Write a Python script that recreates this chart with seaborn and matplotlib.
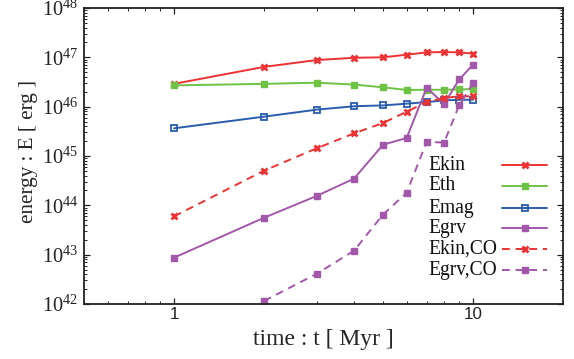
import numpy as np
import pandas as pd
import matplotlib
matplotlib.use("Agg")
import matplotlib.pyplot as plt
from matplotlib.lines import Line2D
from matplotlib.ticker import LogLocator, FixedLocator, FixedFormatter, NullFormatter, LogFormatterMathtext
import seaborn as sns

# time in Myr
time_myr = [1, 2, 3, 4, 5, 6, 7, 8, 9, 10]

# energies in erg
e_kin = [2.9e46, 6.4e46, 8.8e46, 9.8e46, 1.0e47, 1.13e47, 1.26e47, 1.28e47, 1.26e47, 1.19e47]
e_th = [2.7e46, 2.9e46, 3.06e46, 2.8e46, 2.47e46, 2.18e46, 2.2e46, 2.2e46, 2.23e46, 2.28e46]
e_mag = [3.64e45, 6.27e45, 8.7e45, 1.02e46, 1.06e46, 1.15e46, 1.24e46, 1.34e46, 1.38e46, 1.38e46]
e_grv = [8.7e42, 5.6e43, 1.55e44, 3.47e44, 1.69e45, 2.32e45, 2.43e46, 1.13e46, 3.58e46, 7.1e46]
e_kin_co = [5.98e43, 5.04e44, 1.43e45, 2.88e45, 4.67e45, 7.9e45, 1.24e46, 1.5e46, 1.62e46, 1.62e46]
time_grv_co = [2, 3, 4, 5, 6, 7, 8, 9, 10]
e_grv_co = [1.15e42, 4.1e42, 1.2e43, 6.5e43, 1.8e44, 1.95e45, 1.86e45, 1.08e46, 3.0e46]

series_names = ["Ekin", "Eth", "Emag", "Egrv", "Ekin,CO", "Egrv,CO"]
x_tick_values = [1, 10]
x_tick_labels = ["1", "10"]
y_tick_values = [1e42, 1e43, 1e44, 1e45, 1e46, 1e47, 1e48]

sns.set_theme(style="ticks")
plt.rcParams["font.family"] = ["Liberation Serif", "DejaVu Serif"]
plt.rcParams["mathtext.fontset"] = "stix"

RED = "#ec3232"
GREEN = "#6ec244"
BLUE = "#2a5dad"
PURPLE = "#a257ab"
DASH = (0, (4, 3))

styles = {
    "Ekin": dict(color=RED, marker="x", ms=4.3, mew=2.0, ls="-"),
    "Eth": dict(color=GREEN, marker="s", ms=4.5, mew=1.0, ls="-"),
    "Emag": dict(color=BLUE, marker="s", ms=4.6, mew=1.3, ls="-", mfc="none"),
    "Egrv": dict(color=PURPLE, marker="s", ms=4.5, mew=1.0, ls="-"),
    "Ekin,CO": dict(color=RED, marker="x", ms=4.3, mew=2.0, ls=DASH),
    "Egrv,CO": dict(color=PURPLE, marker="s", ms=4.5, mew=1.0, ls=DASH),
}

data = {
    "Ekin": (time_myr, e_kin),
    "Eth": (time_myr, e_th),
    "Emag": (time_myr, e_mag),
    "Egrv": (time_myr, e_grv),
    "Ekin,CO": (time_myr, e_kin_co),
    "Egrv,CO": (time_grv_co, e_grv_co),
}


def marker_kwargs(st):
    kw = dict(marker=st["marker"], markersize=st["ms"], markeredgewidth=st["mew"],
              markeredgecolor=st["color"], linestyle=st["ls"])
    if "mfc" in st:
        kw["markerfacecolor"] = st["mfc"]
    return kw


W, H = 574, 359
fig = plt.figure(figsize=(W / 100, H / 100), dpi=100)
ax_l, ax_r, ax_t, ax_b = 84, 563, 8, 304
ax = fig.add_axes([ax_l / W, 1 - ax_b / H, (ax_r - ax_l) / W, (ax_b - ax_t) / H])


def ax_x(px):
    return (px - ax_l) / (ax_r - ax_l)


def ax_y(py):
    return (ax_b - py) / (ax_b - ax_t)


for name in series_names:
    t, e = data[name]
    df = pd.DataFrame({"t": t, "E": e})
    st = styles[name]
    sns.lineplot(data=df, x="t", y="E", ax=ax, color=st["color"], linewidth=1.4,
                 legend=False, **marker_kwargs(st))

ax.set_xscale("log")
ax.set_yscale("log")
ax.set_xlim(0.5, 20)
ax.set_ylim(1e42, 1e48)

ax.xaxis.set_major_locator(FixedLocator(x_tick_values))
ax.xaxis.set_major_formatter(FixedFormatter(x_tick_labels))
ax.xaxis.set_minor_locator(LogLocator(base=10, subs=np.arange(2, 10), numticks=20))
ax.xaxis.set_minor_formatter(NullFormatter())
ax.yaxis.set_major_locator(FixedLocator(y_tick_values))
ax.yaxis.set_major_formatter(LogFormatterMathtext())
ax.yaxis.set_minor_locator(LogLocator(base=10, subs=np.arange(2, 10), numticks=20))
ax.yaxis.set_minor_formatter(NullFormatter())

ax.tick_params(which="both", direction="in", top=True, right=True, colors="#222222")
ax.tick_params(which="major", length=4, width=0.9)
ax.tick_params(which="minor", length=2.2, width=0.7)
ax.tick_params(axis="y", labelsize=13, pad=4)
ax.tick_params(axis="x", labelsize=11, pad=2)

for sp in ax.spines.values():
    sp.set_linewidth(1.3)
    sp.set_color("#222222")

ax.set_xlabel("time : t [ Myr ]", fontsize=17)
ax.set_ylabel("energy : E [ erg ]", fontsize=15)
ax.xaxis.set_label_coords(0.5, ax_y(339))
ax.xaxis.label.set_verticalalignment("center")
ax.yaxis.set_label_coords(ax_x(28), ax_y(151))
ax.yaxis.label.set_verticalalignment("center")

# legend: labels on the left, line samples on the right
legend_rows_y = [165, 186, 208, 228, 249, 270]
legend_texts = []
for name, ry in zip(series_names, legend_rows_y):
    st = styles[name]
    txt = ax.text(ax_x(428), ax_y(ry), name, transform=ax.transAxes,
                  ha="left", va="center", fontsize=15, color="#111111")
    legend_texts.append(txt)
    ax.add_line(Line2D([ax_x(502), ax_x(547)], [ax_y(ry), ax_y(ry)],
                       transform=ax.transAxes, color=st["color"], linewidth=1.4,
                       clip_on=False, linestyle=st["ls"]))
    ax.add_line(Line2D([ax_x(524.5)], [ax_y(ry)], transform=ax.transAxes,
                       color=st["color"], linestyle="none", clip_on=False,
                       marker=st["marker"], markersize=st["ms"],
                       markeredgewidth=st["mew"], markeredgecolor=st["color"],
                       markerfacecolor=st.get("mfc", st["color"])))

# scale text sizes to their intended pixel widths
fig.canvas.draw()
renderer = fig.canvas.get_renderer()


def fit(text_obj, target, use_height=False):
    bb = text_obj.get_window_extent(renderer)
    size = bb.height if use_height else bb.width
    if size > 0:
        text_obj.set_fontsize(text_obj.get_fontsize() * target / size)


fit(ax.xaxis.label, 141)
fit(ax.yaxis.label, 144, use_height=True)
fit(legend_texts[-1], 69)
for t in legend_texts[:-1]:
    t.set_fontsize(legend_texts[-1].get_fontsize())

ylab = ax.get_yticklabels()[0]
yw = ylab.get_window_extent(renderer).width
if yw > 0:
    ax.tick_params(axis="y", labelsize=ylab.get_fontsize() * 36 / yw)
xlab = [l for l in ax.get_xticklabels() if l.get_text() == "10"][0]
xw = xlab.get_window_extent(renderer).width
if xw > 0:
    ax.tick_params(axis="x", labelsize=xlab.get_fontsize() * 17 / xw)
for lab in ax.get_xticklabels():
    lab.set_fontfamily(["Liberation Sans", "DejaVu Sans"])

fig.savefig("out.png", dpi=100)
